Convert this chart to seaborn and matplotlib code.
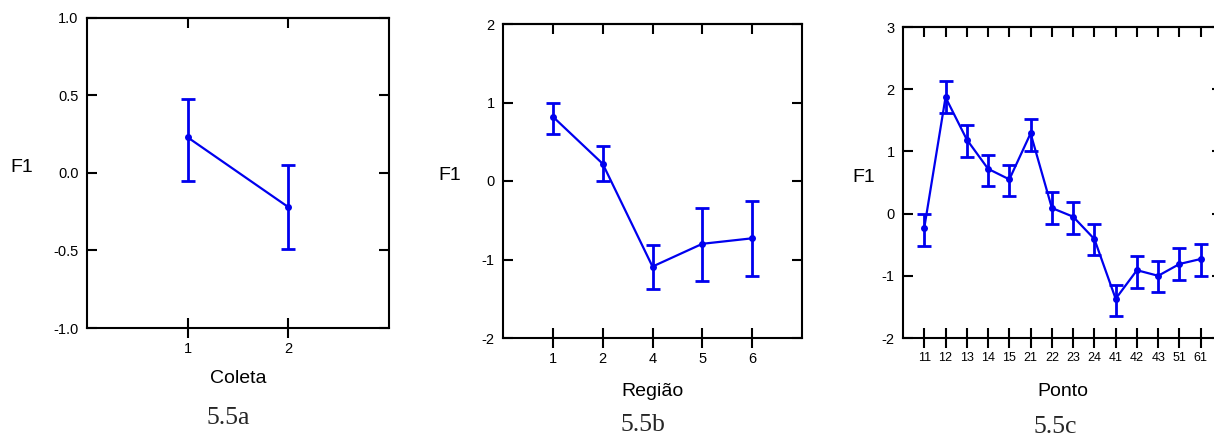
import numpy as np
import matplotlib
matplotlib.use("Agg")
import matplotlib.pyplot as plt
import seaborn as sns

# ---- data ----
coleta_labels = ["1", "2"]
coleta_mean = [0.23, -0.22]
coleta_low = [-0.05, -0.49]
coleta_high = [0.48, 0.05]

regiao_labels = ["1", "2", "4", "5", "6"]
regiao_mean = [0.82, 0.22, -1.09, -0.80, -0.73]
regiao_low = [0.60, 0.00, -1.38, -1.28, -1.21]
regiao_high = [1.00, 0.45, -0.82, -0.34, -0.26]

ponto_labels = ["11", "12", "13", "14", "15", "21", "22", "23", "24", "41", "42", "43", "51", "61"]
ponto_mean = [-0.23, 1.87, 1.19, 0.72, 0.55, 1.29, 0.09, -0.05, -0.41, -1.37, -0.91, -1.00, -0.81, -0.73]
ponto_low = [-0.52, 1.62, 0.91, 0.44, 0.28, 1.00, -0.16, -0.32, -0.67, -1.64, -1.19, -1.26, -1.07, -1.00]
ponto_high = [0.00, 2.13, 1.42, 0.94, 0.78, 1.52, 0.34, 0.19, -0.16, -1.14, -0.68, -0.77, -0.55, -0.49]

sns.set_theme(style="white")
plt.rcParams["font.family"] = ["Liberation Sans", "DejaVu Sans"]
plt.rcParams["axes.unicode_minus"] = False

W, H = 1214, 441
fig = plt.figure(figsize=(W / 100, H / 100), dpi=100)
fig.patch.set_facecolor("white")

BLUE = "#0000ee"


def px_axes(left, right, top, bottom):
    return fig.add_axes([left / W, (H - bottom) / H, (right - left) / W, (bottom - top) / H])


def draw_panel(ax, labels, mean, low, high, xlim, ylim, yticks, yfmt, xlabel, tick_fs, ylab_x, xlabelpad):
    pos = np.arange(1, len(labels) + 1)
    mean = np.asarray(mean)
    yerr = [mean - np.asarray(low), np.asarray(high) - mean]
    ax.errorbar(pos, mean, yerr=yerr, fmt="none", ecolor=BLUE, elinewidth=2.0,
                capsize=5, capthick=2.0, zorder=2)
    sns.lineplot(x=pos, y=mean, ax=ax, color=BLUE, linewidth=1.6, marker="o",
                 markersize=5, markeredgewidth=0, zorder=3)
    ax.set_xlim(*xlim)
    ax.set_ylim(*ylim)
    ax.set_xticks(pos)
    ax.set_xticklabels(labels, fontsize=tick_fs)
    ax.set_yticks(yticks)
    ax.set_yticklabels([yfmt.format(v) for v in yticks], fontsize=10.5)
    for s in ax.spines.values():
        s.set_linewidth(1.5)
        s.set_color("black")
    ax.tick_params(axis="x", which="major", bottom=True, top=False, direction="inout",
                   length=14, width=1.5, color="black", pad=3, labelcolor="black")
    ax.tick_params(axis="y", which="major", left=True, right=True, direction="in",
                   length=7.5, width=1.5, color="black", pad=6, labelcolor="black")
    # top ticks pointing inward only
    sec = ax.secondary_xaxis("top")
    sec.set_xticks(pos)
    sec.set_xticklabels([])
    sec.tick_params(axis="x", direction="in", length=7.5, width=1.5, color="black")
    sec.spines["top"].set_linewidth(1.5)
    ax.set_xlabel(xlabel, fontsize=14, color="black", labelpad=xlabelpad)
    ax.set_ylabel("F1", fontsize=14, rotation=0, color="black")
    ax.yaxis.set_label_coords(ylab_x, 0.49)
    ax.set_facecolor("white")


ax1 = px_axes(87, 389, 18, 328)
draw_panel(ax1, coleta_labels, coleta_mean, coleta_low, coleta_high, (0, 3), (-1, 1),
           [-1.0, -0.5, 0.0, 0.5, 1.0], "{:.1f}", "Coleta", 10.5, -0.215, 10)

ax2 = px_axes(503, 802, 24, 338)
draw_panel(ax2, regiao_labels, regiao_mean, regiao_low, regiao_high, (0, 6), (-2, 2),
           [-2, -1, 0, 1, 2], "{:.0f}", "Região", 10.5, -0.177, 12)

ax3 = px_axes(903, 1222, 27, 338)
draw_panel(ax3, ponto_labels, ponto_mean, ponto_low, ponto_high, (0, 15), (-2, 3),
           [-2, -1, 0, 1, 2, 3], "{:.0f}", "Ponto", 9, -0.122, 14)

cap_font = ["Liberation Serif", "DejaVu Serif"]
fig.text(228 / W, 1 - 418 / H, "5.5a", ha="center", va="center", fontsize=18.5, family=cap_font)
fig.text(643 / W, 1 - 425 / H, "5.5b", ha="center", va="center", fontsize=18.5, family=cap_font)
fig.text(1055 / W, 1 - 427 / H, "5.5c", ha="center", va="center", fontsize=18.5, family=cap_font)

fig.savefig("out.png", dpi=100, facecolor="white")
